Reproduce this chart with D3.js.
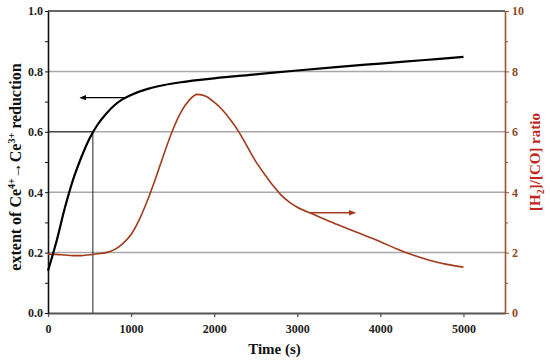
<!DOCTYPE html>
<html>
<head>
<meta charset="utf-8">
<script src="https://cdn.jsdelivr.net/npm/d3@7"></script>
<style>
  html, body { margin: 0; padding: 0; background: #fff; }
  #chart { width: 550px; height: 363px; }
  text { font-family: "Liberation Serif", "DejaVu Serif", serif; font-weight: bold; }
</style>
</head>
<body>
<div id="chart"></div>
<script>
// extent of Ce4+ -> Ce3+ reduction (left axis)
const extTime = [0, 100, 200, 300, 400, 500, 600, 700, 800, 900, 1000, 1200, 1400, 1600, 1800, 2000, 2500, 3000, 3500, 4000, 4500, 5000];
const extValue = [0.14, 0.235, 0.345, 0.44, 0.515, 0.578, 0.625, 0.66, 0.688, 0.708, 0.722, 0.742, 0.755, 0.764, 0.771, 0.777, 0.79, 0.803, 0.815, 0.826, 0.837, 0.848];

// [H2]/[CO] ratio (right axis)
const ratioTime = [0, 100, 200, 300, 400, 500, 600, 700, 800, 900, 1000, 1100, 1200, 1300, 1400, 1500, 1600, 1700, 1800, 1900, 2000, 2100, 2200, 2300, 2400, 2500, 2600, 2700, 2800, 2900, 3000, 3200, 3400, 3600, 3800, 4000, 4200, 4400, 4600, 4800, 5000];
const ratioValue = [1.95, 1.94, 1.92, 1.9, 1.9, 1.93, 1.96, 2.0, 2.1, 2.3, 2.6, 3.1, 3.75, 4.5, 5.3, 6.05, 6.65, 7.05, 7.24, 7.18, 6.98, 6.72, 6.38, 5.98, 5.5, 5.02, 4.62, 4.25, 3.92, 3.68, 3.5, 3.26, 3.02, 2.8, 2.58, 2.36, 2.12, 1.91, 1.74, 1.61, 1.52];

const xTicks = [0, 1000, 2000, 3000, 4000, 5000];
const yLeftTicks = [0, 0.2, 0.4, 0.6, 0.8, 1.0];
const yLeftMinor = [0.1, 0.3, 0.5, 0.7, 0.9];
const yRightTicks = [0, 2, 4, 6, 8, 10];
const yRightMinor = [1, 3, 5, 7, 9];
const gridValues = [0.2, 0.4, 0.6, 0.8];

// marker line at 60 % reduction, and the two direction arrows
const markTime = 540, markValue = 0.6;
const leftArrow = { from: 915, to: 395, value: 0.713 };
const rightArrow = { from: 3150, to: 3690, value: 3.32 };

const width = 550, height = 363;
const m = { t: 11, r: 45, b: 50, l: 48 };
const iw = width - m.l - m.r, ih = height - m.t - m.b;

const svg = d3.select("#chart").append("svg").attr("width", width).attr("height", height);
const defs = svg.append("defs");
function arrowMarker(id, color) {
  defs.append("marker").attr("id", id)
    .attr("viewBox", "0 0 10 10").attr("refX", 8).attr("refY", 5)
    .attr("markerWidth", 5).attr("markerHeight", 5).attr("orient", "auto-start-reverse")
    .append("path").attr("d", "M0,1 L10,5 L0,9 Z").attr("fill", color);
}
arrowMarker("arrBlack", "#000");
arrowMarker("arrRed", "#a33a1c");

const g = svg.append("g").attr("transform", `translate(${m.l},${m.t})`);

const x = d3.scaleLinear().domain([0, 5500]).range([0, iw]);
const yL = d3.scaleLinear().domain([0, 1]).range([ih, 0]);
const yR = d3.scaleLinear().domain([0, 10]).range([ih, 0]);

// gridlines
g.selectAll(".grid").data(gridValues).enter().append("line")
  .attr("x1", 0).attr("x2", iw).attr("y1", d => yL(d)).attr("y2", d => yL(d))
  .attr("stroke", "#a8a8a8").attr("stroke-width", 1.5);

// top border
g.append("line").attr("x1", 0).attr("x2", iw).attr("y1", 0).attr("y2", 0)
  .attr("stroke", "#333").attr("stroke-width", 1.5);

// 60% marker lines
g.append("line").attr("x1", 0).attr("x2", x(markTime)).attr("y1", yL(markValue)).attr("y2", yL(markValue))
  .attr("stroke", "#222").attr("stroke-width", 1);
g.append("line").attr("x1", x(markTime)).attr("x2", x(markTime)).attr("y1", yL(markValue)).attr("y2", ih)
  .attr("stroke", "#222").attr("stroke-width", 1);

// bottom axis
const xAxis = g.append("g").attr("transform", `translate(0,${ih})`)
  .call(d3.axisBottom(x).tickValues(xTicks).tickFormat(d3.format("d")).tickSize(4).tickSizeOuter(0));
xAxis.select(".domain").attr("stroke", "#555").attr("stroke-width", 2);
xAxis.selectAll(".tick line").attr("stroke", "#555").attr("stroke-width", 1.3);
xAxis.selectAll(".tick text").attr("font-size", 12).attr("fill", "#222").attr("dy", "1.1em");

// left axis
const yAxisL = g.append("g")
  .call(d3.axisLeft(yL).tickValues(yLeftTicks).tickFormat(d3.format(".1f")).tickSize(3).tickSizeOuter(0));
yAxisL.select(".domain").attr("stroke", "#111").attr("stroke-width", 1.6);
yAxisL.selectAll(".tick line").attr("stroke", "#111");
yAxisL.selectAll(".tick text").attr("font-size", 12).attr("fill", "#222").attr("x", -5);
g.append("g").call(d3.axisLeft(yL).tickValues(yLeftMinor).tickFormat("").tickSize(3).tickSizeOuter(0))
  .call(a => a.select(".domain").remove())
  .selectAll(".tick line").attr("stroke", "#111");

// right axis
const rightColor = "#a0522d";
const yAxisR = g.append("g").attr("transform", `translate(${iw},0)`)
  .call(d3.axisRight(yR).tickValues(yRightTicks).tickFormat(d3.format("d")).tickSize(4).tickSizeOuter(0));
yAxisR.select(".domain").attr("stroke", rightColor).attr("stroke-width", 1.6);
yAxisR.selectAll(".tick line").attr("stroke", rightColor);
yAxisR.selectAll(".tick text").attr("font-size", 12).attr("fill", "#8b4a26").attr("x", 7);
g.append("g").attr("transform", `translate(${iw},0)`)
  .call(d3.axisRight(yR).tickValues(yRightMinor).tickFormat("").tickSize(3).tickSizeOuter(0))
  .call(a => a.select(".domain").remove())
  .selectAll(".tick line").attr("stroke", rightColor);

// curves
const extData = extTime.map((t, i) => ({ t, v: extValue[i] }));
const ratioData = ratioTime.map((t, i) => ({ t, v: ratioValue[i] }));

g.append("path").datum(ratioData)
  .attr("d", d3.line().x(d => x(d.t)).y(d => yR(d.v)).curve(d3.curveMonotoneX))
  .attr("fill", "none").attr("stroke", "#a33a1c").attr("stroke-width", 1.6);

g.append("path").datum(extData)
  .attr("d", d3.line().x(d => x(d.t)).y(d => yL(d.v)).curve(d3.curveMonotoneX))
  .attr("fill", "none").attr("stroke", "#000").attr("stroke-width", 2.2);

// direction arrows
g.append("line").attr("x1", x(leftArrow.from)).attr("x2", x(leftArrow.to))
  .attr("y1", yL(leftArrow.value)).attr("y2", yL(leftArrow.value))
  .attr("stroke", "#000").attr("stroke-width", 1.4).attr("marker-end", "url(#arrBlack)");
g.append("line").attr("x1", x(rightArrow.from)).attr("x2", x(rightArrow.to))
  .attr("y1", yR(rightArrow.value)).attr("y2", yR(rightArrow.value))
  .attr("stroke", "#a33a1c").attr("stroke-width", 1.4).attr("marker-end", "url(#arrRed)");

// axis titles
svg.append("text").attr("x", m.l + x(2750) - 2).attr("y", 354)
  .attr("text-anchor", "middle").attr("font-size", 15).attr("fill", "#111")
  .text("Time (s)");

const lt = svg.append("text")
  .attr("transform", `translate(21,${m.t + ih / 2 + 5}) rotate(-90)`)
  .attr("text-anchor", "middle").attr("font-size", 16).attr("fill", "#111");
lt.append("tspan").text("extent of Ce");
lt.append("tspan").attr("font-size", 10).attr("dy", -6).text("4+");
lt.append("tspan").attr("dy", 6).text("\u2192Ce");
lt.append("tspan").attr("font-size", 10).attr("dy", -6).text("3+");
lt.append("tspan").attr("dy", 6).text(" reduction");

const rt = svg.append("text")
  .attr("transform", `translate(540,${m.t + ih / 2}) rotate(-90)`)
  .attr("text-anchor", "middle").attr("font-size", 15).attr("fill", "#c0281e");
rt.append("tspan").text("[H");
rt.append("tspan").attr("font-size", 10).attr("dy", 4).text("2");
rt.append("tspan").attr("dy", -4).text("]/[CO] ratio");
</script>
</body>
</html>
